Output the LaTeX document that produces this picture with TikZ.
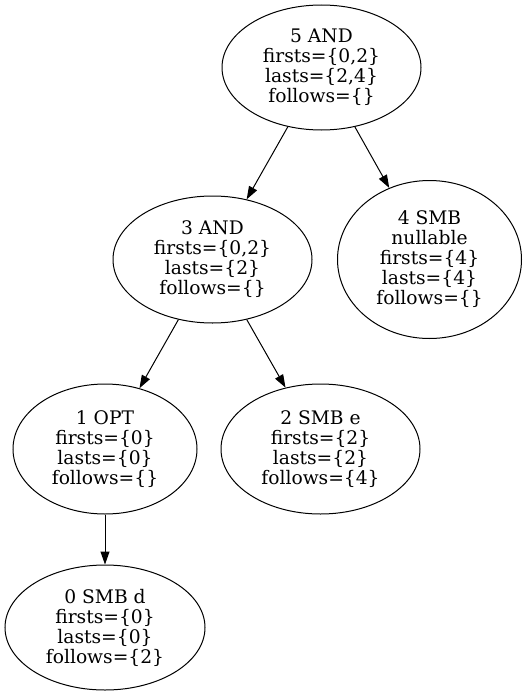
\documentclass[tikz,border=0pt]{standalone}
\usepackage{fontspec}
\setmainfont{DejaVu Serif}
\usetikzlibrary{arrows.meta, shapes.geometric, positioning}
\tikzstyle{edge} = [line width=1pt,->,>={Triangle[length=13pt,width=9pt]}]
\tikzstyle{term} = [draw, ellipse, line width=1pt, inner sep=0pt, align=center, font=\fontsize{18.67}{20}\selectfont]

\begin{document}
\begin{tikzpicture}[x=1pt, y=1pt, on grid]
		\useasboundingbox (0,0) rectangle (526,-696);
		\node[term, minimum width=199pt, minimum height=125pt] (n5) at (321.5,-67.5)
			{5 AND\\firsts=\{0,2\}\\lasts=\{2,4\}\\follows=\{\}};
		\node[term, minimum width=199pt, minimum height=127pt, below left=192pt and 109pt of n5]  (n3)
			{3 AND\\firsts=\{0,2\}\\lasts=\{2\}\\follows=\{\}};
		\node[term, minimum width=184pt, minimum height=158pt, below right=192pt and 108pt of n5] (n4)
			{4 SMB\\nullable\\firsts=\{4\}\\lasts=\{4\}\\follows=\{\}};
		\node[term, minimum width=184pt, minimum height=130pt, below left=189.5pt and 107.5pt of n3] (n1)
			{1 OPT\\firsts=\{0\}\\lasts=\{0\}\\follows=\{\}};
		\node[term, minimum width=199pt, minimum height=130pt, below right=189.5pt and 108pt of n3] (n2)
			{2 SMB e\\firsts=\{2\}\\lasts=\{2\}\\follows=\{4\}};
		\node[term, minimum width=200pt, minimum height=125pt, below=178.5pt of n1] (n0)
			{0 SMB d\\firsts=\{0\}\\lasts=\{0\}\\follows=\{2\}};
		
		\draw[edge] (n5) -- (n3);
		\draw[edge] (n5) -- (n4);
		\draw[edge] (n3) -- (n1);
		\draw[edge] (n3) -- (n2);
		\draw[edge] (n1) -- (n0);
	\end{tikzpicture}
\end{document}
